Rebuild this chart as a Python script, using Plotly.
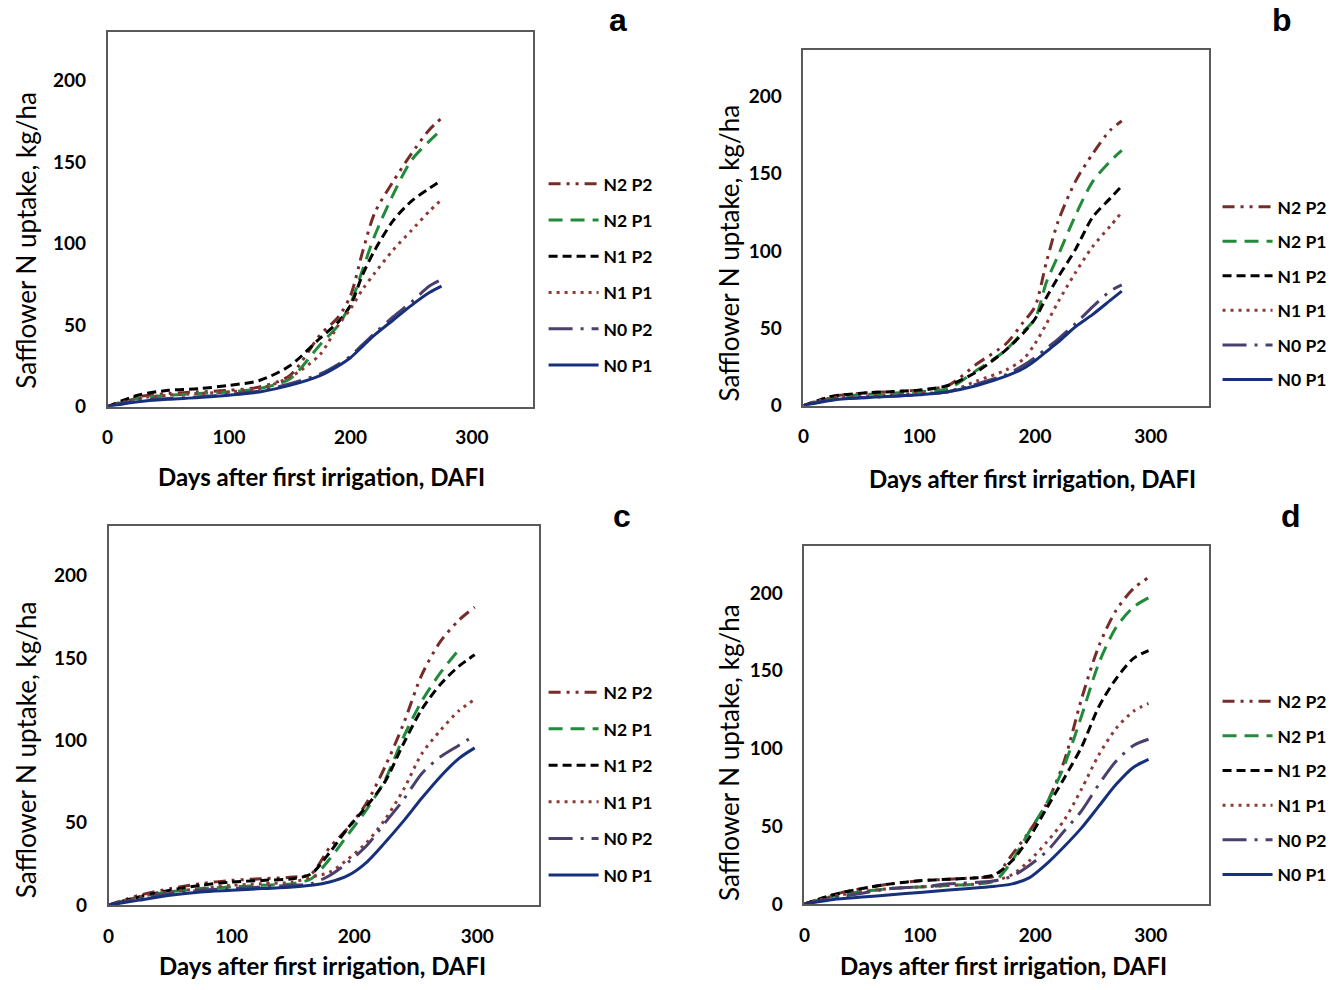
import plotly.graph_objects as go

W, H = 1338, 990
H_EFF = 980  # empirical vertical calibration of pixel positions

series_names = ["N2 P2", "N2 P1", "N1 P2", "N1 P1", "N0 P2", "N0 P1"]
panel_letters = ["a", "b", "c", "d"]
x_ticks = [0, 100, 200, 300]
y_ticks = [0, 50, 100, 150, 200]
x_title = "Days after first irrigation, DAFI"
y_title = "Safflower N uptake, kg/ha"

# ---- data ----
days_ab = [0, 25, 50, 75, 100, 125, 150, 175, 190, 200, 210, 220, 235, 250, 265, 275]
days_cd = [0, 25, 50, 75, 100, 125, 150, 165, 180, 195, 210, 225, 240, 255, 270, 285, 298]

a_N2P2 = [0, 6, 8, 9, 10, 12, 19, 44, 55, 68, 95, 119, 138, 155, 170, 177]
a_N2P1 = [0, 5, 7, 8, 9, 11, 17, 38, 50, 63, 84, 105, 130, 151, 163, 170]
a_N1P2 = [0, 7, 10, 11, 13, 16, 25, 42, 52, 62, 81, 96, 114, 126, 134, 139]
a_N1P1 = [0, 5, 7, 8, 9, 11, 18, 32, 50, 60, 72, 82, 96, 108, 120, 127]
a_N0P2 = [0, 4, 5, 6, 7.5, 9.5, 14, 20, 26, 31, 38, 45, 55, 64, 74, 78]
a_N0P1 = [0, 3, 4.5, 5.5, 7, 9, 13, 19, 25, 30, 37, 44, 53, 62, 70, 74]

b_N2P2 = [0, 6, 8, 9, 10, 13, 27, 40, 54, 64, 93, 119, 145, 163, 178, 184]
b_N2P1 = [0, 5, 7, 8, 9, 11, 23, 36, 48, 56, 80, 97, 123, 145, 158, 165]
b_N1P2 = [0, 6, 8, 9, 10, 13, 22, 36, 47, 56, 70, 83, 101, 122, 134, 142]
b_N1P1 = [0, 5, 6, 7, 8, 9, 16, 23, 30, 40, 53, 67, 86, 103, 116, 125]
b_N0P2 = [0, 4, 5, 6, 7, 9, 14, 20, 26, 31, 37, 43, 53, 64, 74, 78]
b_N0P1 = [0, 3.5, 5, 6, 7, 9, 13, 19, 24, 29, 35, 41, 51, 59, 68, 74]

c_N2P2 = [0, 6, 10, 13, 15, 16, 17, 19, 35, 47, 62, 84, 110, 140, 160, 173, 181]
c_N2P1 = [0, 5, 8, 10, 11, 12, 13, 16, 28, 43, 58, 76, 102, 124, 141, 155, None]
c_N1P2 = [0, 5, 9, 12, 14, 15, 16, 19, 32, 47, 60, 75, 98, 119, 134, 145, 152]
c_N1P1 = [0, 5, 8, 10, 12, 13, 14, 17, 20, 28, 38, 52, 70, 92, 106, 118, 125]
c_N0P2 = [0, 4, 7, 9, 10, 11, 12, 13, 18, 26, 36, 50, 64, 80, 90, 97, 103]
c_N0P1 = [0, 3, 6, 8, 9, 10, 11, 12, 14, 18, 26, 38, 51, 65, 78, 89, 95.5]

d_N2P2 = [0, 6, 10, 13, 15, 16, 17, 18, 32, 47, 65, 92, 132, 166, 189, 203, 210]
d_N2P1 = [0, 5, 8, 10, 11, 12, 13, 15, 28, 47, 65, 89, 121, 155, 178, 191, 197]
d_N1P2 = [0, 6, 10, 13, 15, 16, 17, 19, 28, 43, 62, 81, 101, 127, 145, 158, 163]
d_N1P1 = [0, 5, 8, 10, 11, 12, 13, 15, 19, 28, 40, 54, 74, 96, 113, 124, 129]
d_N0P2 = [0, 4, 7, 10, 11, 13, 14, 15, 18, 25, 34, 47, 60, 77, 92, 102, 106]
d_N0P1 = [0, 3, 4.5, 6, 7.5, 9, 10.5, 11.5, 13, 17, 26, 37, 49, 63, 77, 88, 93]

panels = [
    (days_ab, [a_N2P2, a_N2P1, a_N1P2, a_N1P1, a_N0P2, a_N0P1]),
    (days_ab, [b_N2P2, b_N2P1, b_N1P2, b_N1P1, b_N0P2, b_N0P1]),
    (days_cd, [c_N2P2, c_N2P1, c_N1P2, c_N1P1, c_N0P2, c_N0P1]),
    (days_cd, [d_N2P2, d_N2P1, d_N1P2, d_N1P1, d_N0P2, d_N0P1]),
]

# ---- styles ----
colors = ["#772C2A", "#228B3B", "#000000", "#8C3B36", "#4B3F6E", "#17307B"]
dashes = ["12px,6px,3px,6px,3px,6px", "14px,8px", "9px,5px", "3px,5px",
          "24px,8px,3px,8px", "solid"]

FONT = "Lato"

# plot boxes in pixels: (left, top, right, bottom)
boxes = [(102, 32, 529, 407), (801, 50, 1208, 406),
         (103, 527, 535, 906), (802, 547, 1208, 905)]
letter_pos = [(615, 20), (1282, 20), (619, 517), (1291, 517)]
xtitle_pos = [(317, 477), (1031, 479), (318, None), (1002, None)]
ytitle_pos = [(20, 240), (726, 253), (20, 750), (726, 753)]
legend_pos = [(540, 166), (1217, 189), (540, 675), (1217, 684)]
legend_gap = [10.5, 8.8, 10.8, 8.9]


def px(x):
    return x / W


def py(y):
    return 1 - y / H_EFF


fig = go.Figure()
layout = dict(
    width=W, height=H, margin=dict(l=0, r=0, t=0, b=0),
    paper_bgcolor="white", plot_bgcolor="white",
    font=dict(family=FONT, color="black"),
    annotations=[],
)

for i, (days, vals) in enumerate(panels):
    n = i + 1
    sfx = "" if n == 1 else str(n)
    xa, ya = "x" + sfx, "y" + sfx
    lg = "legend" + sfx
    for k, name in enumerate(series_names):
        fig.add_trace(go.Scatter(
            x=days, y=vals[k], name=name, mode="lines",
            line=dict(color=colors[k], width=3, dash=dashes[k], shape="spline", smoothing=0.8),
            xaxis=xa, yaxis=ya, legend=lg, legendgroup=f"p{n}_{k}",
            connectgaps=False,
        ))
    l, t, r, b = boxes[i]
    axis_common = dict(showline=True, mirror=True, linecolor="#5a5a5a", linewidth=1.5,
                       showgrid=False, zeroline=False, ticks="",
                       tickfont=dict(family=FONT, size=19, weight="bold", color="black"))
    layout["xaxis" + sfx] = dict(
        domain=[px(l), px(r)], range=[0, 350], tickvals=x_ticks,
        anchor=ya, ticklabelstandoff=13, **axis_common)
    layout["yaxis" + sfx] = dict(
        domain=[py(b), py(t)], range=[0, 230], tickvals=y_ticks,
        anchor=xa, ticklabelstandoff=16, **axis_common)
    lx, ly = legend_pos[i]
    layout[lg] = dict(
        x=px(lx), y=py(ly), xanchor="left", yanchor="top",
        bgcolor="rgba(0,0,0,0)", borderwidth=0,
        font=dict(family=FONT, size=17.5, weight="bold", color="black"),
        tracegroupgap=legend_gap[i], traceorder="grouped",
        itemwidth=50,
    )
    ax, ay = letter_pos[i]
    layout["annotations"].append(dict(
        x=px(ax), y=py(ay), xref="paper", yref="paper", text=f"<b>{panel_letters[i]}</b>",
        showarrow=False, font=dict(family="Liberation Sans", size=32, color="black"),
        xanchor="center", yanchor="middle"))
    tx, ty = xtitle_pos[i]
    layout["annotations"].append(dict(
        x=px(tx), y=(py(ty) if ty is not None else -0.002), xref="paper", yref="paper",
        text=x_title, showarrow=False, borderpad=0,
        font=dict(family=FONT, size=24, weight="bold", color="black"),
        xanchor="center", yanchor=("middle" if ty is not None else "bottom")))
    vx, vy = ytitle_pos[i]
    layout["annotations"].append(dict(
        x=px(vx), y=py(vy), xref="paper", yref="paper", text=y_title,
        showarrow=False, textangle=-90,
        font=dict(family=FONT, size=26, color="black"),
        xanchor="center", yanchor="middle"))

fig.update_layout(**layout)
fig.write_html("out.html")
